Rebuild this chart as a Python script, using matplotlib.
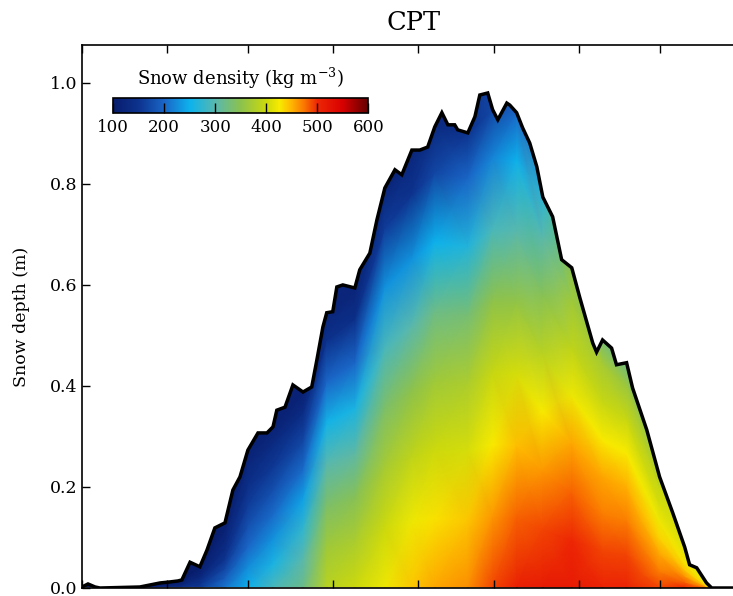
"""
CPT snow depth / density evolution, Oct - May
"""

import numpy as np
import matplotlib
matplotlib.use("Agg")
import matplotlib.pyplot as plt
from matplotlib.colors import LinearSegmentedColormap
from matplotlib.patches import Polygon

plt.rcParams['font.family'] = ['DejaVu Serif']
plt.rcParams['mathtext.fontset'] = 'dejavuserif'

# snow depth outline (days since 1 Oct, m)
day = [0.0, 2.2, 4.8, 6.6, 21.2, 24.9, 28.6, 32.2, 35.2, 36.6,
       39.6, 43.2, 45.8, 48.7, 52.4, 55.3, 57.9, 60.8, 64.5, 67.8,
       70.0, 71.4, 74.4, 77.3, 81.0, 84.2, 86.1, 88.3, 89.7, 91.9,
       93.4, 95.6, 100.0, 101.8, 105.5, 108.1, 111.0, 114.7, 117.2, 120.9,
       123.8, 126.7, 129.3, 131.9, 134.1, 136.6, 137.7, 141.4, 144.0, 145.8,
       148.7, 150.5, 152.4, 155.7, 156.8, 159.3, 161.5, 164.1, 166.7, 168.9,
       172.5, 175.8, 179.5, 182.4, 187.2, 188.6, 190.8, 194.1, 195.9, 199.6,
       201.8, 207.0, 211.7, 216.5, 220.9, 222.7, 225.3, 228.9, 230.8, 233.7,
       243.0]
depth = [0.002, 0.008, 0.002, 0.0, 0.002, 0.006, 0.010, 0.012, 0.014, 0.016,
         0.051, 0.042, 0.075, 0.119, 0.129, 0.194, 0.220, 0.273, 0.307, 0.307,
         0.319, 0.352, 0.358, 0.402, 0.388, 0.398, 0.452, 0.517, 0.545, 0.547,
         0.596, 0.600, 0.594, 0.630, 0.663, 0.729, 0.792, 0.828, 0.818, 0.867,
         0.867, 0.873, 0.913, 0.941, 0.917, 0.917, 0.907, 0.901, 0.933, 0.976,
         0.980, 0.947, 0.927, 0.960, 0.956, 0.941, 0.911, 0.881, 0.834, 0.774,
         0.735, 0.650, 0.634, 0.576, 0.485, 0.467, 0.491, 0.475, 0.442, 0.446,
         0.396, 0.313, 0.220, 0.149, 0.081, 0.046, 0.040, 0.010, 0.0, 0.0,
         0.0]

# density profiles (kg m-3) at some of the dates above,
# from ground (frac 0) to snow surface (frac 1)
frac = [0.0, 0.15, 0.3, 0.45, 0.6, 0.75, 0.9, 1.0]
dens_day = [0.0, 21.2, 36.6, 43.2, 52.4, 60.8, 70.0, 81.0, 89.7, 100.0,
            111.0, 120.9, 129.3, 141.4, 150.5, 159.3, 168.9, 179.5, 190.8, 199.6,
            211.7, 220.9, 228.9, 233.7]
density = [
    [130, 125, 120, 115, 110, 105, 100, 100],
    [130, 125, 120, 115, 110, 105, 100, 100],
    [150, 140, 130, 120, 115, 110, 105, 100],
    [160, 150, 140, 130, 120, 115, 110, 105],
    [210, 190, 170, 150, 135, 125, 115, 110],
    [250, 225, 200, 180, 160, 140, 125, 115],
    [290, 260, 230, 205, 180, 155, 130, 115],
    [320, 300, 275, 240, 205, 170, 135, 115],
    [385, 365, 335, 300, 255, 200, 145, 120],
    [400, 375, 345, 305, 260, 200, 140, 120],
    [420, 400, 370, 335, 290, 230, 160, 120],
    [440, 420, 390, 350, 300, 230, 150, 120],
    [455, 430, 400, 365, 320, 250, 170, 130],
    [465, 440, 405, 375, 330, 265, 200, 150],
    [490, 460, 425, 395, 350, 290, 220, 170],
    [510, 480, 445, 405, 355, 300, 250, 200],
    [515, 490, 460, 425, 385, 345, 300, 270],
    [515, 500, 480, 455, 420, 390, 365, 350],
    [505, 490, 470, 455, 425, 395, 370, 330],
    [505, 490, 470, 450, 425, 395, 360, 320],
    [490, 470, 455, 435, 420, 405, 395, 390],
    [500, 480, 460, 440, 430, 420, 415, 410],
    [480, 460, 440, 430, 420, 415, 410, 410],
    [480, 460, 440, 430, 420, 415, 410, 410],
]

month_start = [0, 31, 61, 92, 123, 151, 182, 212, 243]
month_names = ['Oct', 'Nov', 'Dec', 'Jan', 'Feb', 'Mar', 'Apr', 'May']
cb_ticks = [100, 200, 300, 400, 500, 600]

# colour scale
cmap_nodes = [
    (100, (0.03, 0.11, 0.42)),
    (150, (0.05, 0.20, 0.56)),
    (200, (0.10, 0.40, 0.78)),
    (250, (0.05, 0.70, 0.93)),
    (300, (0.35, 0.72, 0.68)),
    (350, (0.55, 0.76, 0.30)),
    (400, (0.80, 0.85, 0.05)),
    (425, (0.97, 0.92, 0.00)),
    (450, (1.00, 0.70, 0.00)),
    (475, (0.98, 0.45, 0.00)),
    (500, (0.93, 0.15, 0.02)),
    (550, (0.85, 0.00, 0.00)),
    (600, (0.40, 0.00, 0.00)),
]
cmap = LinearSegmentedColormap.from_list(
    'snowdens', [((v - 100) / 500, c) for v, c in cmap_nodes])

fig = plt.figure(figsize=(7.33, 5.96), dpi=100)
ax = fig.add_axes([82 / 733, 8 / 596, 663 / 733, 543 / 596])

day_a = np.array(day)
depth_a = np.array(depth)
idx = np.searchsorted(day_a, dens_day)
col_depth = depth_a[idx]

# mesh: rows follow fractions of the column depth, plus a cap row above
fr = np.array(frac)
X = np.repeat(np.array(dens_day)[:, None], len(frac) + 1, axis=1)
Y = np.hstack([col_depth[:, None] * fr[None, :],
               (col_depth * 1.3 + 0.06)[:, None]])
C = np.array(density, dtype=float)
C = np.hstack([C, C[:, -1:]])

mesh = ax.pcolormesh(X, Y, C, shading='gouraud', cmap=cmap, vmin=100, vmax=600)

clip = Polygon(np.column_stack([day_a, depth_a]), closed=True,
               facecolor='none', edgecolor='none', transform=ax.transData)
ax.add_patch(clip)
mesh.set_clip_path(clip)

ax.plot(day, depth, color='k', lw=2.5, solid_joinstyle='miter')

ax.set_xlim(0, 243)
ax.set_ylim(0, 1.075)
ax.set_xticks(month_start)
ax.set_xticklabels([])
mid = [(a + b) / 2 for a, b in zip(month_start[:-1], month_start[1:])]
ax.set_xticks(mid, minor=True)
ax.set_xticklabels(month_names, minor=True, fontsize=12)
ax.tick_params(axis='x', which='minor', length=0, pad=6)
ax.tick_params(axis='x', which='major', direction='in', length=6, top=True, width=1)
ax.set_yticks([0.0, 0.2, 0.4, 0.6, 0.8, 1.0])
ax.set_yticklabels(['0.0', '0.2', '0.4', '0.6', '0.8', '1.0'], fontsize=12.5)
ax.tick_params(axis='y', direction='in', length=6, right=True, width=1)
for s in ax.spines.values():
    s.set_linewidth(1.2)

ax.set_ylabel('Snow depth (m)', fontsize=12.5, labelpad=14)
ax.set_title('CPT', fontsize=18.5, pad=11)

cax = ax.inset_axes([0.047, 0.874, 0.385, 0.028])
cb = fig.colorbar(mesh, cax=cax, orientation='horizontal', ticks=cb_ticks)
cb.ax.tick_params(direction='in', length=7, width=1, labelsize=12, pad=4)
cb.outline.set_linewidth(1.2)
cax.set_title('Snow density (kg m$^{-3}$)', fontsize=13, pad=10)

fig.savefig('out.png', dpi=100)
